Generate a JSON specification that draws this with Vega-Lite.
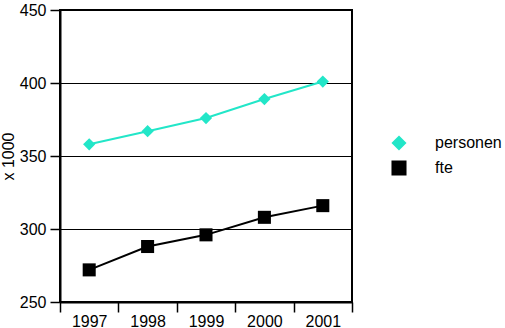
{
  "$schema": "https://vega.github.io/schema/vega-lite/v6.json",
  "autosize": "none",
  "width": 292,
  "height": 292,
  "padding": {"left": 60, "top": 10, "right": 153, "bottom": 26},
  "background": "white",
  "config": {
    "view": {"stroke": "black", "strokeWidth": 2},
    "font": "Liberation Sans",
    "axis": {"labelFont": "Liberation Sans", "labelFontSize": 16, "labelColor": "black", "titleFont": "Liberation Sans", "titleFontSize": 16, "titleFontWeight": "normal", "titleColor": "black", "domainColor": "black", "domainWidth": 2, "tickColor": "black", "tickWidth": 1.5}
  },
  "data": {
    "values": [
      {"year": "1997", "series": "personen", "value": 358},
      {"year": "1998", "series": "personen", "value": 367},
      {"year": "1999", "series": "personen", "value": 376},
      {"year": "2000", "series": "personen", "value": 389},
      {"year": "2001", "series": "personen", "value": 401},
      {"year": "1997", "series": "fte", "value": 272},
      {"year": "1998", "series": "fte", "value": 288},
      {"year": "1999", "series": "fte", "value": 296},
      {"year": "2000", "series": "fte", "value": 308},
      {"year": "2001", "series": "fte", "value": 316}
    ]
  },
  "encoding": {
    "x": {
      "field": "year", "type": "ordinal",
      "scale": {"paddingInner": 0, "paddingOuter": 0},
      "axis": {"title": null, "labelAngle": 0, "tickBand": "extent", "tickSize": 10, "labelPadding": 1, "grid": false}
    },
    "y": {
      "field": "value", "type": "quantitative",
      "scale": {"domain": [250, 450], "nice": false, "zero": false},
      "axis": {"title": "x 1000", "values": [250, 300, 350, 400, 450], "tickSize": 10, "labelPadding": 4, "grid": true, "gridColor": "black", "gridWidth": 1, "gridOpacity": 1, "titleX": -52, "titleAlign": "center", "titleBaseline": "middle", "titleAngle": 270}
    },
    "color": {
      "field": "series", "type": "nominal",
      "scale": {"domain": ["personen", "fte"], "range": ["#22e6c8", "black"]},
      "legend": {
        "orient": "none", "legendX": 331, "legendY": 125, "title": null,
        "labelFont": "Liberation Sans", "labelFontSize": 16, "labelColor": "black",
        "symbolSize": 144, "symbolStrokeWidth": 2, "symbolOpacity": 1, "labelOffset": 28, "rowPadding": 3, "padding": 0
      }
    }
  },
  "layer": [
    {"mark": {"type": "line", "strokeWidth": 2}},
    {
      "mark": {"type": "point", "filled": true, "opacity": 1},
      "encoding": {
        "shape": {"field": "series", "type": "nominal", "scale": {"domain": ["personen", "fte"], "range": ["diamond", "square"]}, "legend": null},
        "size": {"field": "series", "type": "nominal", "scale": {"domain": ["personen", "fte"], "range": [150, 170]}, "legend": null}
      }
    }
  ]
}
